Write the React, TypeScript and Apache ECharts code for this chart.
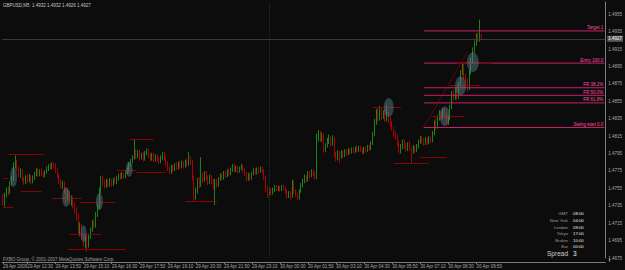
import React, { useEffect, useRef } from "react";
import * as echarts from "echarts";

const FONT = '"Liberation Sans", Arial, sans-serif';
const GREEN = "#20b820";
const RED = "#e80000";
const AXIS = "#7c7c7c";
const TEXT = "#a8a8a8";
const FIB_LINE = "#c8206a";
const FIB_TEXT = "#ff4fa3";
const SR_RED = "#8b0000";

const titleText = "GBPUSD,M5  1.4932 1.4932 1.4926 1.4927";
const copyrightText = "FXBO Group, \u00a9 2001-2007 MetaQuotes Software Corp.";

// OHLC rows in pips above 1.4000: [open, close, low, high]
const bars: number[][] = [
  [745,742,736,748],[742,748,734,750],[748,753,745,756],[753,750,747,757],[750,761,749,763],
  [761,766,758,769],[766,782,764,785],[782,786,778,793],[786,778,775,788],[778,772,768,780],
  [772,775,767,778],[775,766,763,777],[766,762,759,768],[762,768,760,770],[768,764,761,771],
  [764,769,762,772],[769,763,760,770],[763,767,761,770],[767,772,765,774],[772,776,769,778],
  [776,771,768,779],[771,775,769,777],[775,772,769,778],[772,770,767,774],[770,774,768,776],
  [774,777,772,780],[777,781,775,783],[781,779,777,784],[779,783,777,785],[783,781,779,785],
  [781,776,773,784],[776,770,767,778],[770,764,760,772],[764,758,755,766],[758,762,754,764],
  [762,752,749,763],[752,745,738,755],[745,750,741,753],[750,741,737,752],[741,744,735,747],
  [744,736,732,746],[736,730,726,739],[730,722,718,733],[722,705,702,726],[705,712,700,716],
  [712,700,696,714],[700,694,688,703],[694,698,686,701],[698,690,682,700],[690,700,687,703],
  [700,708,697,710],[708,716,705,718],[716,712,709,720],[712,726,710,728],[726,734,722,737],
  [734,752,731,756],[752,766,749,769],[766,762,758,770],[762,758,755,765],[758,763,756,766],
  [763,759,756,765],[759,764,757,767],[764,760,757,766],[760,765,758,767],[765,762,760,768],
  [762,766,760,769],[766,770,764,772],[770,767,765,773],[767,771,766,774],[771,769,766,773],
  [769,774,767,776],[774,777,771,779],[777,782,774,785],[782,786,780,789],[786,790,784,793],
  [790,797,788,812],[797,792,789,800],[792,797,790,799],[797,790,787,799],[790,794,788,796],
  [794,789,786,797],[789,795,787,798],[795,799,793,801],[799,793,790,801],[793,790,786,795],
  [790,794,787,796],[794,788,785,796],[788,792,786,794],[792,789,786,794],[789,786,783,791],
  [786,791,784,793],[791,795,788,797],[795,790,787,797],[790,784,781,792],[784,778,775,786],
  [778,774,771,780],[774,780,772,782],[780,777,774,782],[777,782,775,784],[782,779,776,785],
  [779,784,777,786],[784,780,777,786],[780,785,778,787],[785,781,778,787],[781,786,779,788],
  [786,783,780,789],[783,790,781,797],[790,786,782,792],[786,768,764,788],[768,746,740,770],
  [746,752,742,756],[752,764,749,767],[764,760,755,768],[760,770,757,791],[770,765,761,773],
  [765,772,763,775],[772,767,764,775],[767,762,759,770],[762,768,760,771],[768,763,760,770],
  [763,758,754,766],[758,764,736,766],[764,759,756,766],[759,766,757,768],[766,770,764,772],
  [770,767,764,773],[767,773,765,775],[773,770,767,775],[770,775,768,777],[775,772,769,778],
  [772,777,770,779],[777,781,774,783],[781,776,773,783],[776,779,774,781],[779,775,772,781],
  [775,778,773,780],[778,781,776,783],[781,776,773,782],[776,772,769,778],[772,766,763,774],
  [766,770,764,773],[770,767,764,772],[767,772,765,774],[772,776,770,778],[776,773,771,778],
  [773,777,771,779],[777,775,772,779],[775,778,773,780],[778,775,772,780],[775,768,765,777],
  [768,755,751,770],[755,748,744,758],[748,753,746,755],[753,750,747,755],[750,753,748,756],
  [753,757,751,759],[757,754,752,759],[754,756,752,758],[756,754,751,758],[754,757,752,759],
  [757,755,753,759],[755,752,749,757],[752,746,743,754],[746,750,744,752],[750,745,742,752],
  [745,762,744,765],[762,752,749,764],[752,748,745,754],[748,744,741,750],[744,752,742,754],
  [752,758,750,761],[758,763,756,766],[763,768,761,771],[768,765,762,770],[765,772,763,775],
  [772,770,767,775],[770,775,768,777],[775,772,769,777],[772,768,765,774],[768,814,766,818],
  [814,818,809,822],[818,812,808,821],[812,816,809,819],[816,799,796,818],[799,805,797,807],
  [805,810,802,813],[810,814,806,817],[814,806,803,815],[806,812,804,816],[812,794,791,814],
  [794,790,786,797],[790,796,787,799],[796,791,784,798],[791,796,789,799],[796,793,790,798],
  [793,798,791,800],[798,795,792,800],[795,799,793,801],[799,797,794,801],[797,800,795,802],
  [800,798,795,802],[798,801,796,803],[801,799,797,804],[799,802,797,804],[802,800,797,804],
  [800,797,794,802],[797,801,795,803],[801,799,796,803],[799,803,797,805],[803,801,798,805],
  [801,807,799,809],[807,818,805,820],[818,832,815,835],[832,842,828,846],[842,836,832,848],
  [836,844,833,850],[844,838,834,848],[838,842,835,845],[842,835,831,846],[835,841,832,851],
  [841,834,830,843],[834,829,826,837],[829,824,821,832],[824,818,814,826],[818,814,811,821],
  [814,806,803,817],[806,798,795,809],[798,803,795,806],[803,808,800,811],[808,804,801,811],
  [804,800,797,807],[800,806,798,808],[806,801,798,809],[801,797,784,803],[797,802,795,805],
  [802,799,796,804],[799,803,797,806],[803,808,801,811],[808,812,806,815],[812,810,807,815],
  [810,807,804,813],[807,811,805,814],[811,808,805,814],[808,812,806,815],[812,810,807,815],
  [810,818,808,821],[818,830,816,833],[830,826,822,836],[826,836,824,839],[836,841,833,845],
  [841,838,834,844],[838,844,835,847],[844,840,836,847],[840,832,828,842],[832,836,828,839],
  [836,848,834,851],[848,864,846,867],[864,860,856,868],[860,868,857,870],[868,860,857,870],
  [860,874,858,877],[874,888,872,891],[888,896,885,899],[896,884,880,898],[884,878,875,887],
  [878,870,867,881],[870,888,868,891],[888,902,886,905],[902,914,899,917],[914,922,911,925],
  [922,930,919,933],[930,926,923,934],[926,932,924,949],[932,927,926,932],
];

const firstBarMinutes = 11 * 60 + 20;
const barMinutes = 5;
const slotCount = 344;
const labelFirst = 14;
const labelEvery = 16;

const bidPrice = 1.4927;
const fibNames = ["Target 1", "Entry 100.0", "FR 38.2%", "FR 50.0%", "FR 61.8%", "Swing start 0.0"];
const fibPrices = [1.4936, 1.4899, 1.48707, 1.4862, 1.48533, 1.4825];
const fibFrom = 240;
const fibTo = 343;
const fibTrend = [[240, 1.4825], [265, 1.4912]];

// short support / resistance lines: [fromIndex, toIndex, pips above 1.4000]
const srLines = [
  [3, 23, 794], [0, 3, 767], [10, 22, 752], [0, 6, 733], [28, 45, 744], [44, 64, 739],
  [38, 56, 702], [37, 70, 685], [65, 76, 776], [72, 86, 812], [76, 93, 774], [104, 122, 740],
  [211, 227, 848], [223, 243, 784], [238, 253, 791], [245, 263, 838], [255, 272, 874], [259, 279, 899],
];

// highlight ovals: [index, pips above 1.4000, width px, height px]
const ovals = [
  [6, 768, 7, 20], [36, 745, 8, 20], [46, 703, 6, 17], [55, 740, 7, 17], [72, 777, 7, 15],
  [220, 848, 10, 19], [252, 838, 10, 20], [261, 873, 11, 19], [268, 900, 12, 20],
];

const daySeparatorIndex = 152;

const sessionNames = ["GMT", "New York", "London", "Tokyo", "Broker", "Bar"];
const sessionTimes = ["08:00", "04:00", "09:00", "17:00", "10:00", "00:00"];
const spreadLabel = "Spread";
const spreadValue = "3";

const toPrice = (p: number) => 1.4 + p / 10000;

const categories = Array.from({ length: slotCount }, (_, i) => {
  if (i === 0) return "29 Apr 2009";
  const m = firstBarMinutes + i * barMinutes;
  const day = 29 + Math.floor(m / 1440);
  const mm = m % 1440;
  const hh = String(Math.floor(mm / 60)).padStart(2, "0");
  const mi = String(mm % 60).padStart(2, "0");
  return `${day} Apr ${hh}:${mi}`;
});

const showLabel = (idx: number) =>
  idx === 0 || (idx >= labelFirst && idx < bars.length && (idx - labelFirst) % labelEvery === 0);

export default function App() {
  const ref = useRef<HTMLDivElement>(null);

  useEffect(() => {
    document.body.style.margin = "0";
    const chart = echarts.init(ref.current!, null, { renderer: "svg" });

    const candleData = bars.map((r) => r.map(toPrice));

    const srData: any[] = srLines.map((s) => [
      { coord: [s[0], toPrice(s[2])] },
      { coord: [s[1], toPrice(s[2])] },
    ]);
    srData.push([
      { coord: fibTrend[0], lineStyle: { color: "#c00000", width: 1, type: "dotted" } },
      { coord: fibTrend[1], lineStyle: { color: "#c00000", width: 1, type: "dotted" } },
    ]);
    srData.push({
      xAxis: daySeparatorIndex,
      lineStyle: { color: "#2e2e2e", width: 1, type: "dotted" },
    });

    const fibSeries = fibPrices.map((p, k) => ({
      type: "line",
      name: fibNames[k],
      data: [[fibFrom, p], [fibTo, p]],
      showSymbol: false,
      symbol: "none",
      silent: true,
      z: 3,
      lineStyle: { color: FIB_LINE, width: 1, type: "solid" },
      itemStyle: { color: FIB_LINE },
      endLabel: {
        show: true,
        formatter: fibNames[k],
        color: FIB_TEXT,
        fontSize: 4.5,
        fontFamily: FONT,
        align: "right",
        verticalAlign: "bottom",
        distance: 0,
        offset: [-1, -0.5],
      },
    }));

    const graphics: any[] = [
      {
        type: "text", x: 3, y: 5,
        style: { text: titleText, fill: "#c8c8c8", fontSize: 4.5, fontFamily: FONT, verticalAlign: "middle" },
      },
      {
        type: "text", x: 3, y: 259.5,
        style: { text: copyrightText, fill: "#a0a0a0", fontSize: 4.5, fontFamily: FONT, verticalAlign: "middle" },
      },
      { type: "line", shape: { x1: 609.5, y1: 258, x2: 609.5, y2: 262 }, style: { stroke: AXIS, lineWidth: 1 } },
    ];
    const rowY = [213, 220, 227, 233.5, 240, 246.5];
    sessionNames.forEach((n, k) => {
      graphics.push({
        type: "text", x: 568, y: rowY[k],
        style: { text: n, fill: "#9c9c9c", fontSize: 4.3, fontFamily: FONT, align: "right", verticalAlign: "middle" },
      });
      graphics.push({
        type: "text", x: 573, y: rowY[k],
        style: { text: sessionTimes[k], fill: "#f0f0f0", fontSize: 4.3, fontFamily: FONT, align: "left", verticalAlign: "middle" },
      });
    });
    graphics.push({
      type: "text", x: 568, y: 253,
      style: { text: spreadLabel, fill: "#cfcfcf", fontSize: 6.5, fontFamily: FONT, align: "right", verticalAlign: "middle" },
    });
    graphics.push({
      type: "text", x: 573, y: 253,
      style: { text: spreadValue, fill: "#f4f4f4", fontSize: 6.5, fontFamily: FONT, align: "left", verticalAlign: "middle" },
    });

    chart.setOption({
      animation: false,
      backgroundColor: "#0c0c0c",
      grid: { left: 2, right: 16, top: 2, bottom: 12, containLabel: false },
      xAxis: {
        type: "category",
        data: categories,
        boundaryGap: true,
        offset: 4,
        axisLine: { lineStyle: { color: AXIS, width: 1 } },
        axisTick: { show: true, length: 2, alignWithLabel: true, interval: showLabel, lineStyle: { color: AXIS } },
        axisLabel: { interval: showLabel, align: "left", margin: 2, fontSize: 4.5, color: TEXT, fontFamily: FONT },
        splitLine: { show: false },
      },
      yAxis: {
        type: "value",
        position: "right",
        min: 1.4675,
        max: 1.496925,
        interval: 0.0005,
        axisLine: { show: true, lineStyle: { color: AXIS, width: 1 } },
        axisTick: { show: false },
        axisLabel: {
          fontSize: 4.5, color: TEXT, fontFamily: FONT, margin: 3,
          formatter: (v: number) => {
            const p = Math.round(v * 10000);
            return (p - 14675) % 20 === 0 ? v.toFixed(4) : "";
          },
        },
        splitLine: { show: false },
      },
      series: [
        {
          type: "candlestick",
          data: candleData,
          barWidth: "65%",
          itemStyle: { color: GREEN, color0: RED, borderColor: GREEN, borderColor0: RED, borderWidth: 0.7 },
          markLine: {
            symbol: ["none", "none"], silent: true, animation: false, precision: 5,
            lineStyle: { color: SR_RED, width: 1, type: "solid" },
            label: { show: false },
            data: srData,
          },
        },
        ...fibSeries,
        {
          type: "line",
          data: [],
          silent: true,
          markLine: {
            symbol: ["none", "none"], silent: true, animation: false, precision: 5,
            lineStyle: { color: "#3a3a3a", width: 1, type: "solid" },
            label: {
              show: true, position: "end", formatter: bidPrice.toFixed(4), color: "#ececec",
              backgroundColor: "#5c5c5c", padding: [1, 1, 0, 1], fontSize: 4.5, fontFamily: FONT, distance: 2,
            },
            data: [{ yAxis: bidPrice }],
          },
        },
        {
          type: "scatter",
          silent: true,
          symbol: "path://M50,0A50,50,0,1,1,50,100A50,50,0,1,1,50,0Z",
          symbolKeepAspect: false,
          itemStyle: { color: "rgba(95,135,148,0.55)" },
          z: 5,
          data: ovals.map((o) => ({ value: [o[0], toPrice(o[1])], symbolSize: [o[2], o[3]] })),
        },
      ],
      graphic: graphics,
    });

    return () => chart.dispose();
  }, []);

  return <div ref={ref} style={{ width: 625, height: 270 }} />;
}
